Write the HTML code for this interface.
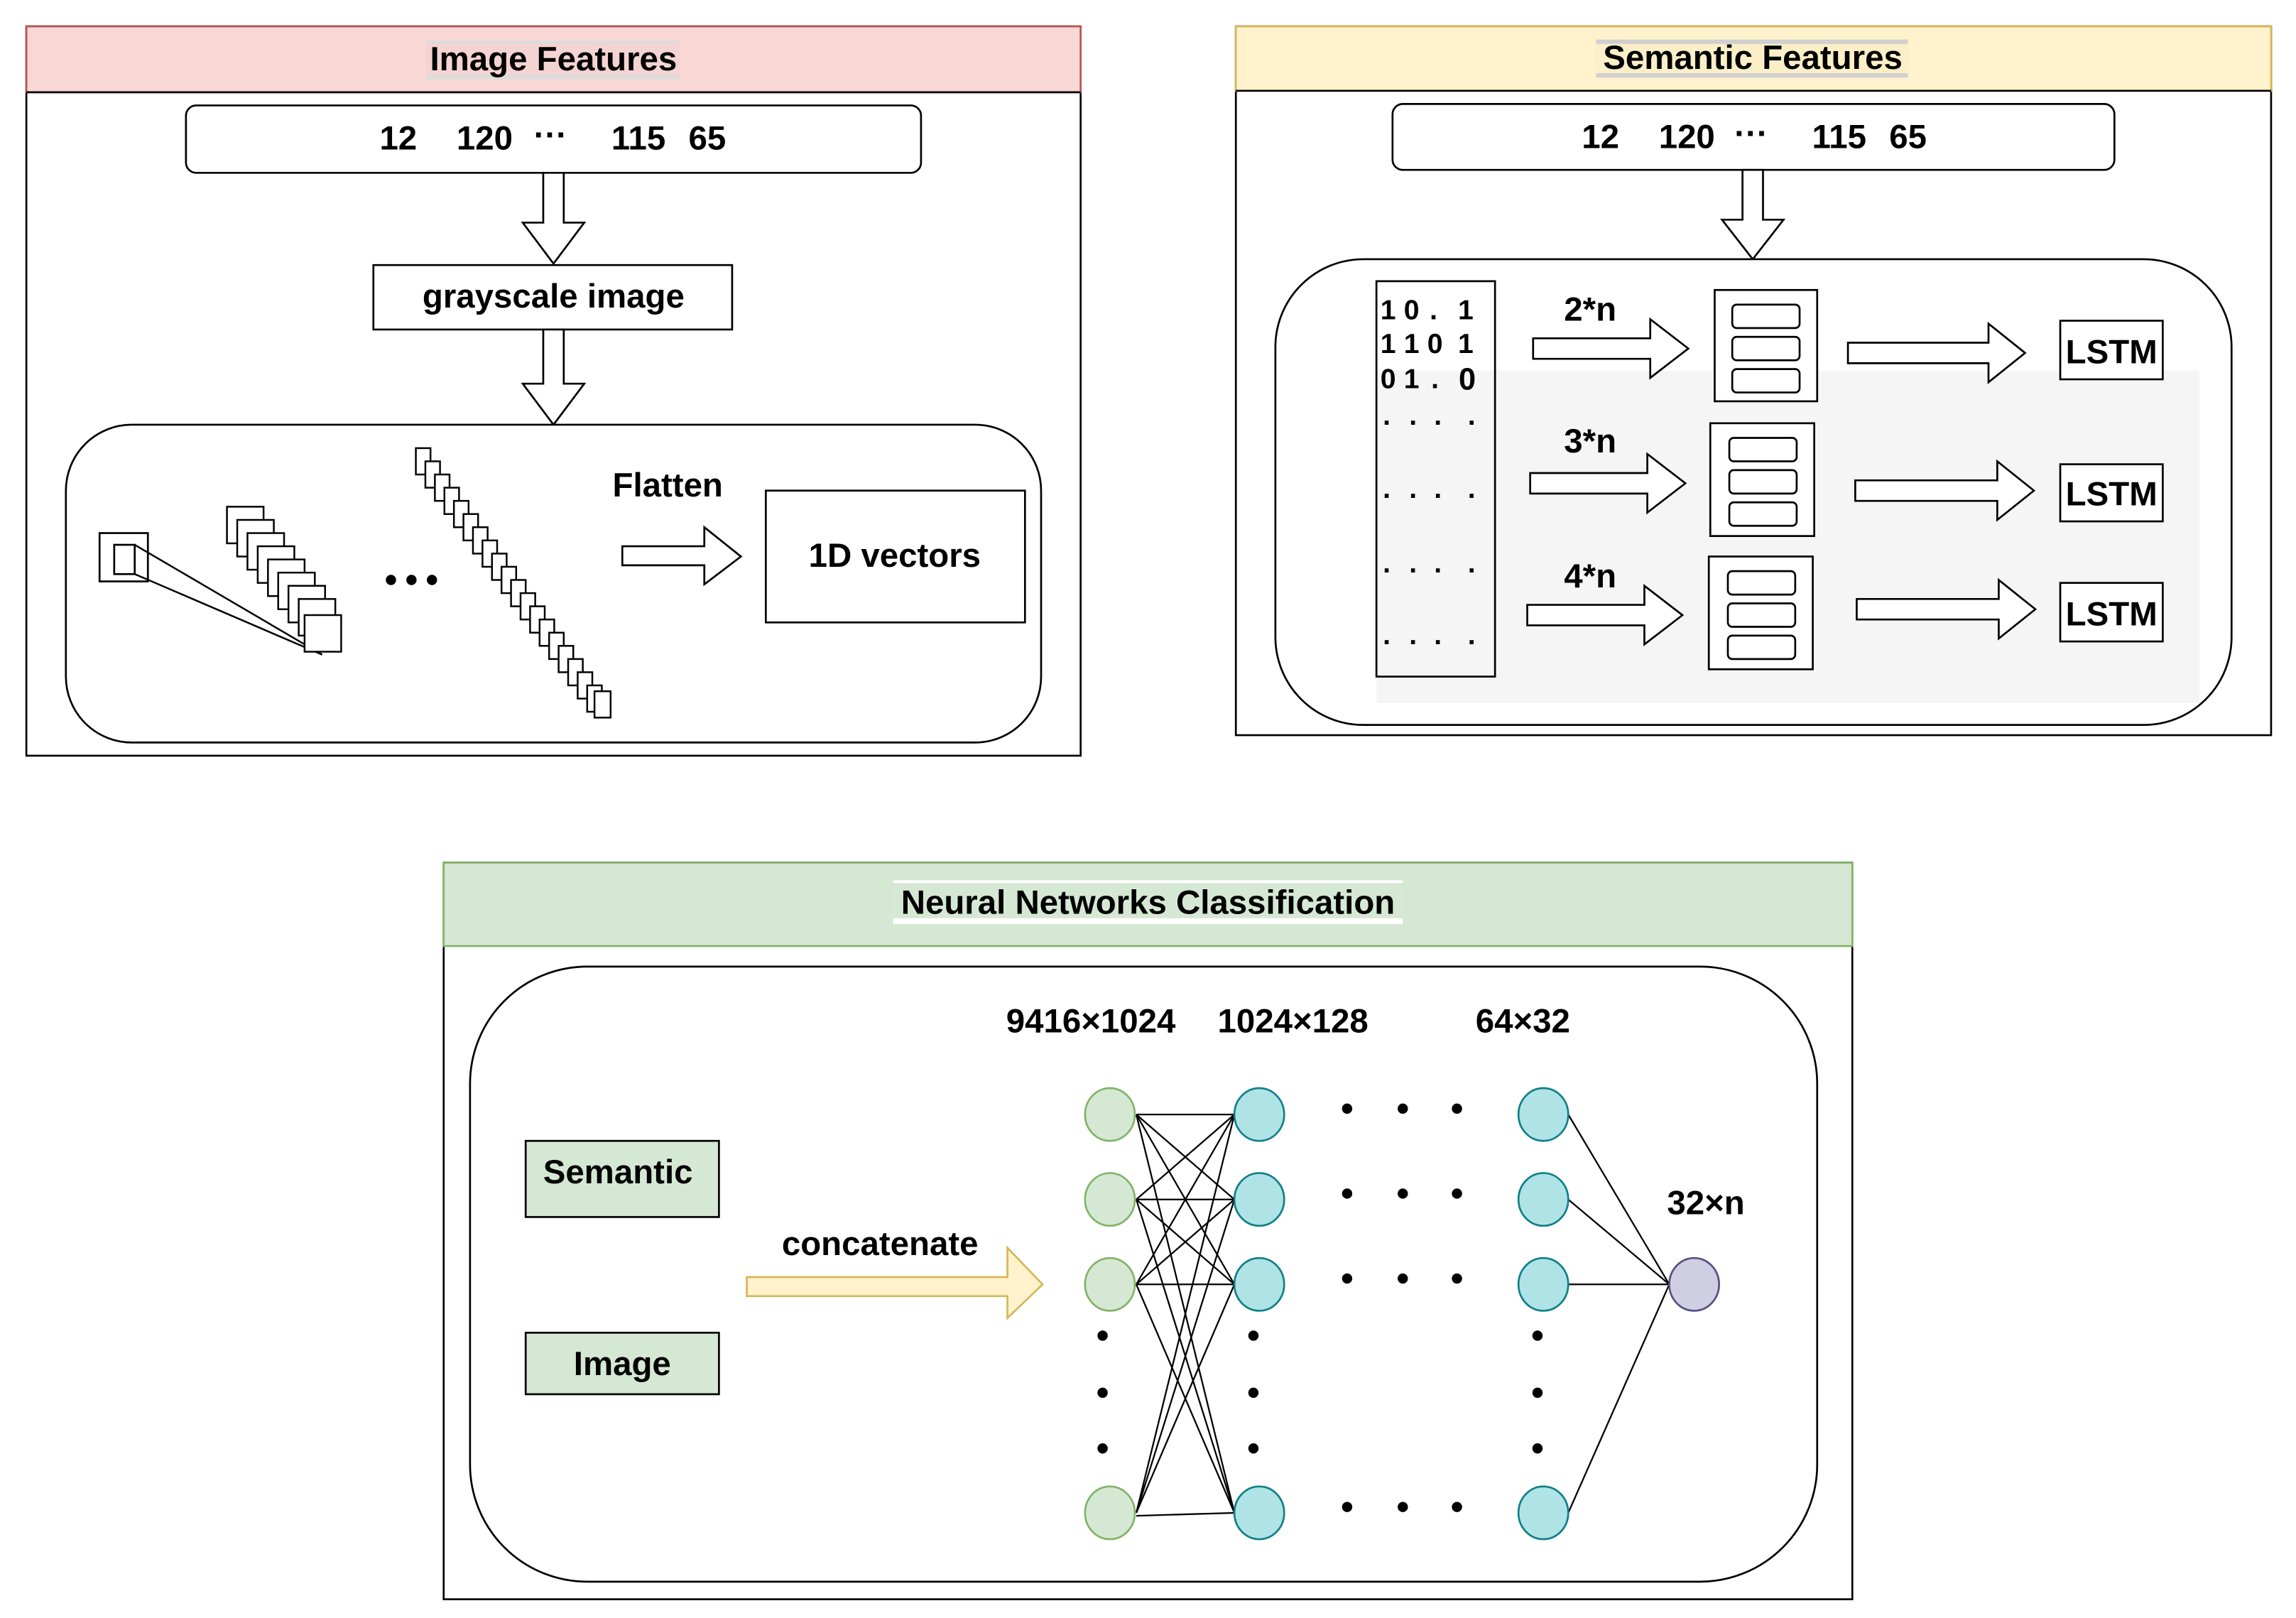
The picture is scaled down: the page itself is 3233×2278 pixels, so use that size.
<!DOCTYPE html>
<html><head><meta charset="utf-8"><style>
html,body{margin:0;padding:0;background:#fff;}
svg{display:block;}
text{font-family:"Liberation Sans",Arial,sans-serif;font-weight:bold;fill:#000;}
</style></head><body>
<svg width="3233" height="2278" viewBox="0 0 1568 1104.8" preserveAspectRatio="none" xmlns="http://www.w3.org/2000/svg">
<rect x="0" y="0" width="1568" height="1105" fill="#fff"/>
<!-- Image Features panel -->
<rect x="18" y="18" width="720" height="498" fill="#fff" stroke="#000" stroke-width="1.3"/>
<rect x="18" y="18" width="720" height="45" fill="#f8d7d4" stroke="#b85450" stroke-width="1.3"/>
<line x1="18" y1="63" x2="738" y2="63" stroke="#000" stroke-width="1.3"/>
<rect x="291" y="28" width="173" height="26" fill="#dcdcdc"/>
<rect x="291" y="30" width="173" height="21" fill="#f4d4d2"/>
<text x="378" y="48" font-size="23" text-anchor="middle">Image Features</text>
<rect x="127" y="72" width="502" height="46" rx="7" fill="#fff" stroke="#000" stroke-width="1.3"/>
<g font-size="23" text-anchor="middle">
<text x="272" y="102">12</text><text x="331" y="102">120</text><text x="376" y="100">···</text><text x="436" y="102">115</text><text x="483" y="102">65</text>
</g>
<polygon points="371,118 385,118 385,152 399,152 378,180 357,152 371,152" fill="#fff" stroke="#000" stroke-width="1.3"/>
<rect x="255" y="181" width="245" height="44" fill="#fff" stroke="#000" stroke-width="1.3"/>
<text x="378" y="210" font-size="23" text-anchor="middle">grayscale image</text>
<polygon points="371,225 385,225 385,262 399,262 378,290 357,262 371,262" fill="#fff" stroke="#000" stroke-width="1.3"/>
<rect x="45" y="290" width="666" height="217" rx="45" fill="#fff" stroke="#000" stroke-width="1.3"/>
<rect x="68" y="364" width="33" height="33" fill="#fff" stroke="#000" stroke-width="1.3"/>
<rect x="78" y="372" width="14" height="20" fill="#fff" stroke="#000" stroke-width="1.3"/>
<line x1="92" y1="372" x2="220" y2="447" stroke="#000" stroke-width="1.2"/>
<line x1="92" y1="392" x2="220" y2="447" stroke="#000" stroke-width="1.2"/>
<g fill="#fff" stroke="#000" stroke-width="1.2">
<rect x="155" y="346" width="25" height="25"/><rect x="162" y="355" width="25" height="25"/><rect x="169" y="364" width="25" height="25"/><rect x="176" y="373" width="25" height="25"/><rect x="183" y="382" width="25" height="25"/><rect x="190" y="391" width="25" height="25"/><rect x="197" y="400" width="25" height="25"/><rect x="204" y="409" width="25" height="25"/><rect x="208" y="420" width="25" height="25"/>
</g>
<circle cx="267" cy="396" r="3.5"/><circle cx="281" cy="396" r="3.5"/><circle cx="295" cy="396" r="3.5"/>
<g fill="#fff" stroke="#000" stroke-width="1.2">
<rect x="284" y="306" width="10" height="18"/><rect x="290.5" y="315" width="10" height="18"/><rect x="297" y="324" width="10" height="18"/><rect x="303.5" y="333" width="10" height="18"/><rect x="310" y="342" width="10" height="18"/><rect x="316.5" y="351" width="10" height="18"/><rect x="323" y="360" width="10" height="18"/><rect x="329.5" y="369" width="10" height="18"/><rect x="336" y="378" width="10" height="18"/><rect x="342.5" y="387" width="10" height="18"/><rect x="349" y="396" width="10" height="18"/><rect x="355.5" y="405" width="10" height="18"/><rect x="362" y="414" width="10" height="18"/><rect x="368.5" y="423" width="10" height="18"/><rect x="375" y="432" width="10" height="18"/><rect x="381.5" y="441" width="10" height="18"/><rect x="388" y="450" width="10" height="18"/><rect x="394.5" y="459" width="10" height="18"/><rect x="401" y="468" width="10" height="18"/><rect x="406" y="472" width="11" height="18"/>
</g>
<text x="456" y="339" font-size="23" text-anchor="middle">Flatten</text>
<polygon points="425,373 481,373 481,360 506,380 481,399 481,386 425,386" fill="#fff" stroke="#000" stroke-width="1.3"/>
<rect x="523" y="335" width="177" height="90" fill="#fff" stroke="#000" stroke-width="1.3"/>
<text x="611" y="387" font-size="23" text-anchor="middle">1D vectors</text>

<!-- Semantic Features panel -->
<rect x="844" y="18" width="707" height="484" fill="#fff" stroke="#000" stroke-width="1.3"/>
<rect x="844" y="18" width="707" height="44" fill="#fff2cc" stroke="#d6b656" stroke-width="1.3"/>
<line x1="844" y1="62" x2="1551" y2="62" stroke="#000" stroke-width="1.3"/>
<rect x="1090" y="27" width="213" height="26" fill="#d0d0d0"/>
<rect x="1090" y="30" width="213" height="20" fill="#fbefc8"/>
<text x="1197" y="47" font-size="23" text-anchor="middle">Semantic Features</text>
<rect x="951" y="71" width="493" height="45" rx="7" fill="#fff" stroke="#000" stroke-width="1.3"/>
<g font-size="23" text-anchor="middle">
<text x="1093" y="101">12</text><text x="1152" y="101">120</text><text x="1196" y="99">···</text><text x="1256" y="101">115</text><text x="1303" y="101">65</text>
</g>
<polygon points="1190,116 1204,116 1204,150 1218,150 1197,177 1176,150 1190,150" fill="#fff" stroke="#000" stroke-width="1.3"/>
<rect x="871" y="177" width="653" height="318" rx="60" fill="#fff" stroke="#000" stroke-width="1.3"/>
<rect x="940" y="253" width="562" height="227" fill="#f5f5f5"/>
<rect x="940" y="192" width="81" height="270" fill="none" stroke="#000" stroke-width="1.3"/>
<g font-size="19" text-anchor="middle">
<text x="948" y="218">1</text><text x="964" y="218">0</text><text x="979" y="218">.</text><text x="1001" y="218">1</text>
<text x="948" y="241">1</text><text x="964" y="241">1</text><text x="980" y="241">0</text><text x="1001" y="241">1</text>
<text x="948" y="265">0</text><text x="964" y="265">1</text><text x="980" y="265">.</text><text x="1002" y="266" font-size="21">0</text>
<text x="947" y="290">.</text><text x="965" y="290">.</text><text x="982" y="290">.</text><text x="1005" y="290">.</text>
<text x="947" y="340">.</text><text x="965" y="340">.</text><text x="982" y="340">.</text><text x="1005" y="340">.</text>
<text x="947" y="391">.</text><text x="965" y="391">.</text><text x="982" y="391">.</text><text x="1005" y="391">.</text>
<text x="947" y="440">.</text><text x="965" y="440">.</text><text x="982" y="440">.</text><text x="1005" y="440">.</text>
</g>
<text x="1086" y="219" font-size="23" text-anchor="middle">2*n</text>
<text x="1086" y="309" font-size="23" text-anchor="middle">3*n</text>
<text x="1086" y="401" font-size="23" text-anchor="middle">4*n</text>
<g fill="#fff" stroke="#000" stroke-width="1.3">
<polygon points="1047,231 1127,231 1127,218 1153,238 1127,258 1127,245 1047,245"/>
<polygon points="1045,323 1125,323 1125,310 1151,330 1125,350 1125,337 1045,337"/>
<polygon points="1043,413 1123,413 1123,400 1149,420 1123,440 1123,427 1043,427"/>
<polygon points="1262,234 1358,234 1358,221 1383,241 1358,261 1358,248 1262,248"/>
<polygon points="1267,328 1364,328 1364,315 1389,335 1364,355 1364,342 1267,342"/>
<polygon points="1268,409 1365,409 1365,396 1390,416 1365,436 1365,423 1268,423"/>
<rect x="1171" y="198" width="70" height="76"/>
<rect x="1183" y="208" width="46" height="16" rx="3"/><rect x="1183" y="230" width="46" height="16" rx="3"/><rect x="1183" y="252" width="46" height="16" rx="3"/>
<rect x="1168" y="289" width="71" height="77"/>
<rect x="1181" y="299" width="46" height="16" rx="3"/><rect x="1181" y="321" width="46" height="16" rx="3"/><rect x="1181" y="343" width="46" height="16" rx="3"/>
<rect x="1167" y="380" width="71" height="77"/>
<rect x="1180" y="390" width="46" height="16" rx="3"/><rect x="1180" y="412" width="46" height="16" rx="3"/><rect x="1180" y="434" width="46" height="16" rx="3"/>
<rect x="1407" y="219" width="70" height="40"/>
<rect x="1407" y="317" width="70" height="39"/>
<rect x="1407" y="398" width="70" height="40"/>
</g>
<text x="1442" y="248" font-size="23" text-anchor="middle">LSTM</text>
<text x="1442" y="345" font-size="23" text-anchor="middle">LSTM</text>
<text x="1442" y="427" font-size="23" text-anchor="middle">LSTM</text>

<!-- Neural Networks panel -->
<rect x="303" y="589" width="962" height="503" fill="#fff" stroke="#000" stroke-width="1.3"/>
<rect x="303" y="589" width="962" height="57" fill="#d5e8d4" stroke="#82b366" stroke-width="1.3"/>
<rect x="610" y="601" width="348" height="30" fill="#fff"/>
<rect x="610" y="603" width="348" height="24" fill="#d5e8d4"/>
<text x="784" y="624" font-size="23" text-anchor="middle">Neural Networks Classification</text>
<rect x="321" y="660" width="920" height="420" rx="80" fill="#fff" stroke="#000" stroke-width="1.3"/>
<text x="745" y="705" font-size="23" text-anchor="middle">9416×1024</text>
<text x="883" y="705" font-size="23" text-anchor="middle">1024×128</text>
<text x="1040" y="705" font-size="23" text-anchor="middle">64×32</text>
<text x="1165" y="829" font-size="23" text-anchor="middle">32×n</text>
<rect x="359" y="779" width="132" height="52" fill="#d5e8d4" stroke="#000" stroke-width="1.3"/>
<text x="422" y="808" font-size="23" text-anchor="middle">Semantic</text>
<rect x="359" y="910" width="132" height="42" fill="#d5e8d4" stroke="#000" stroke-width="1.3"/>
<text x="425" y="939" font-size="23" text-anchor="middle">Image</text>
<text x="601" y="857" font-size="23" text-anchor="middle">concatenate</text>
<polygon points="510,872 688,872 688,852 712,877 688,900 688,885 510,885" fill="#fff2cc" stroke="#d6b656" stroke-width="1.3"/>
<g stroke="#000" stroke-width="1.1">
<line x1="776" y1="761" x2="843" y2="761"/><line x1="776" y1="761" x2="843" y2="819"/><line x1="776" y1="761" x2="843" y2="877"/><line x1="776" y1="761" x2="843" y2="1033"/>
<line x1="776" y1="819" x2="843" y2="761"/><line x1="776" y1="819" x2="843" y2="819"/><line x1="776" y1="819" x2="843" y2="877"/><line x1="776" y1="819" x2="843" y2="1033"/>
<line x1="776" y1="877" x2="843" y2="761"/><line x1="776" y1="877" x2="843" y2="819"/><line x1="776" y1="877" x2="843" y2="877"/><line x1="776" y1="877" x2="843" y2="1033"/>
<line x1="776" y1="1033" x2="843" y2="761"/><line x1="776" y1="1033" x2="843" y2="819"/><line x1="776" y1="1033" x2="843" y2="877"/><line x1="776" y1="1035" x2="843" y2="1033"/>
<line x1="1071" y1="761" x2="1140" y2="877"/><line x1="1071" y1="819" x2="1140" y2="877"/><line x1="1071" y1="877" x2="1140" y2="877"/><line x1="1071" y1="1033" x2="1140" y2="877"/>
</g>
<g fill="#d5e8d4" stroke="#82b366" stroke-width="1.3">
<ellipse cx="758" cy="761" rx="17" ry="18"/><ellipse cx="758" cy="819" rx="17" ry="18"/><ellipse cx="758" cy="877" rx="17" ry="18"/><ellipse cx="758" cy="1033" rx="17" ry="18"/>
</g>
<g fill="#b0e3e6" stroke="#0e8088" stroke-width="1.3">
<ellipse cx="860" cy="761" rx="17" ry="18"/><ellipse cx="860" cy="819" rx="17" ry="18"/><ellipse cx="860" cy="877" rx="17" ry="18"/><ellipse cx="860" cy="1033" rx="17" ry="18"/>
<ellipse cx="1054" cy="761" rx="17" ry="18"/><ellipse cx="1054" cy="819" rx="17" ry="18"/><ellipse cx="1054" cy="877" rx="17" ry="18"/><ellipse cx="1054" cy="1033" rx="17" ry="18"/>
</g>
<ellipse cx="1157" cy="877" rx="17" ry="18" fill="#d0cee2" stroke="#56517e" stroke-width="1.3"/>
<g fill="#000">
<circle cx="753" cy="912" r="3.5"/><circle cx="753" cy="951" r="3.5"/><circle cx="753" cy="989" r="3.5"/>
<circle cx="856" cy="912" r="3.5"/><circle cx="856" cy="951" r="3.5"/><circle cx="856" cy="989" r="3.5"/>
<circle cx="1050" cy="912" r="3.5"/><circle cx="1050" cy="951" r="3.5"/><circle cx="1050" cy="989" r="3.5"/>
<circle cx="920" cy="757" r="3.5"/><circle cx="958" cy="757" r="3.5"/><circle cx="995" cy="757" r="3.5"/>
<circle cx="920" cy="815" r="3.5"/><circle cx="958" cy="815" r="3.5"/><circle cx="995" cy="815" r="3.5"/>
<circle cx="920" cy="873" r="3.5"/><circle cx="958" cy="873" r="3.5"/><circle cx="995" cy="873" r="3.5"/>
<circle cx="920" cy="1029" r="3.5"/><circle cx="958" cy="1029" r="3.5"/><circle cx="995" cy="1029" r="3.5"/>
</g>
</svg>
</body></html>
